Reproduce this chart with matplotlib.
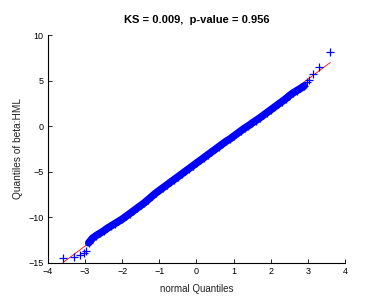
import numpy as np
import matplotlib
matplotlib.use("Agg")
import matplotlib.pyplot as plt

plt.rcParams['font.family'] = ['Liberation Sans', 'DejaVu Sans']

# Lower-tail points (normal quantile, sample quantile)
tail_lo_x = [-3.59, -3.30, -3.14, -3.04, -2.97]
tail_lo_y = [-14.5, -14.4, -14.15, -13.95, -13.65]

# Dense body (normal quantile, sample quantile) read along the band
body_x = [round(-2.9 + 0.1 * i, 2) for i in range(59)]
body_y = [-12.8, -12.3, -12.0, -11.75, -11.5, -11.2, -10.95, -10.7, -10.45, -10.2,
          -9.9, -9.6, -9.3, -9.0, -8.7, -8.4, -8.05, -7.7, -7.35, -7.05,
          -6.75, -6.45, -6.15, -5.85, -5.55, -5.25, -4.95, -4.65, -4.35, -4.05,
          -3.75, -3.45, -3.15, -2.85, -2.55, -2.25, -1.95, -1.65, -1.4, -1.1,
          -0.8, -0.5, -0.2, 0.05, 0.35, 0.62, 0.9, 1.2, 1.5, 1.8,
          2.1, 2.4, 2.7, 3.0, 3.35, 3.65, 3.9, 4.15, 4.4]

# Upper-tail points
tail_hi_x = [2.97, 3.04, 3.14, 3.30, 3.60]
tail_hi_y = [4.8, 5.1, 5.7, 6.5, 8.1]

# Reference line (intercept, slope)
line_intercept = -4.0
line_slope = 3.05

title_text = "KS = 0.009,  p-value = 0.956"
xlabel_text = "normal Quantiles"
ylabel_text = "Quantiles of beta:HML"
xticks = [-4, -3, -2, -1, 0, 1, 2, 3, 4]
yticks = [-15, -10, -5, 0, 5, 10]

xs = np.array(tail_lo_x + body_x + tail_hi_x)
ys = np.array(tail_lo_y + body_y + tail_hi_y)

fig = plt.figure(figsize=(3.89, 3.05), dpi=100)
ax = fig.add_axes([0.123, 0.138, 0.764, 0.747])

lx = np.array([xs.min(), xs.max()])
ax.plot(lx, line_intercept + line_slope * lx, color='red', lw=0.6, zorder=1)
# dense band of overlapping points in the body
ax.plot(body_x, body_y, color='#0000ff', lw=5.4, solid_capstyle='round',
        solid_joinstyle='round', zorder=2)
ax.plot(xs, ys, linestyle='none', marker='+', color='#0000ff',
        markersize=5.5, markeredgewidth=0.9, zorder=3)

ax.set_xlim(-4, 4)
ax.set_ylim(-15, 10)
ax.set_xticks(xticks)
ax.set_yticks(yticks)
ax.tick_params(direction='in', length=3, width=0.6, labelsize=6.5, pad=3,
               colors='black')
for s in ['top', 'right']:
    ax.spines[s].set_visible(False)
for s in ['left', 'bottom']:
    ax.spines[s].set_linewidth(0.8)

ax.set_title(title_text, fontsize=8, fontweight='bold', pad=9)
ax.set_xlabel(xlabel_text, fontsize=7, color='#222222', labelpad=6)
ax.set_ylabel(ylabel_text, fontsize=7.3, color='#222222', labelpad=4)

fig.savefig("out.png", dpi=100)
